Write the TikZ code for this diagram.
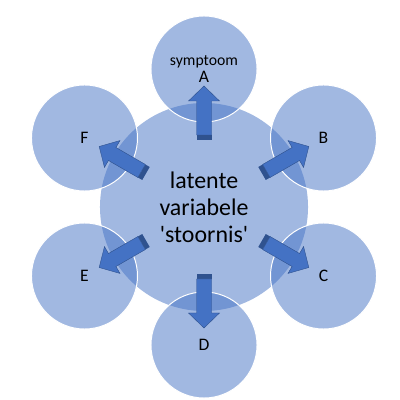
\documentclass[tikz,border=0pt]{standalone}
\usepackage{fontspec}
\setmainfont{Carlito}
\usetikzlibrary{calc}
\definecolor{blobblue}{HTML}{4472C4}
\definecolor{arrowdark}{HTML}{2F528F}
\tikzset{
  hub/.style   = {circle, inner sep=0pt, minimum size=5.2cm, fill=blobblue,
                  fill opacity=0.5, text opacity=1, align=center,
                  font=\fontsize{17}{19.2}\selectfont},
  sym/.style   = {circle, inner sep=0pt, minimum size=2.65cm, fill=blobblue,
                  fill opacity=0.5, text opacity=1, draw=white, draw opacity=1,
                  line width=0.7pt, align=center,
                  font=\fontsize{12.5}{12}\selectfont},
  blockarrow/.style = {fill=blobblue, draw=arrowdark, line width=0.3pt},
  blockback/.style  = {fill=arrowdark},
}

\begin{document}
\begin{tikzpicture}[x=0.025cm, y=0.025cm]
    \useasboundingbox (0,0) rectangle (400,400);

    \node[hub] (hub) at (204,193)
      {latente\\variabele\\\textquotesingle stoornis\textquotesingle};

    \foreach \ang/\nm/\txt in {90/A/{\fontsize{11.2}{12}\selectfont symptoom\\A},
                               30/B/B, -30/C/C, -90/D/D, -150/E/E, 150/F/F}
      \node[sym] (s\nm) at ($(hub.center)+(\ang:138)$) {\txt};

    % block arrows from the hub outwards
    \foreach \ang in {90,30,-30,-90,-150,150}{
      \begin{scope}[shift={(hub.center)}, rotate=\ang]
        \fill[blockback] (67,-7.5) rectangle (72,7.5);
        \draw[blockarrow] (72,-7.5) -- (106,-7.5) -- (106,-15.5) -- (121,0)
          -- (106,15.5) -- (106,7.5) -- (72,7.5) -- cycle;
      \end{scope}
    }
\end{tikzpicture}
\end{document}
